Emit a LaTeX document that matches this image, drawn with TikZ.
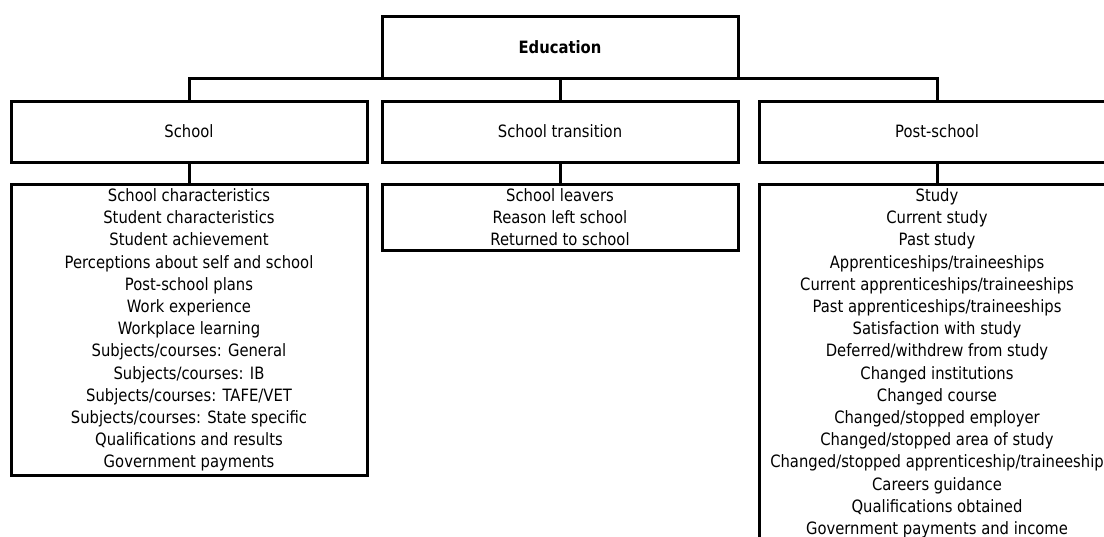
\documentclass[tikz,border=0pt]{standalone}
\usepackage{fontspec}
\setmainfont{DejaVu Sans}[FakeStretch=0.87]
\usetikzlibrary{positioning}

\begin{document}
\begin{tikzpicture}[x=1pt,y=-1pt,font=\fontsize{17}{22.2}\selectfont,
    hdbox/.style={draw, line width=3pt, minimum width=356pt, minimum height=61pt, inner sep=0pt, outer sep=0pt},
    lstbox/.style={draw, line width=3pt, minimum width=356pt, align=center, inner xsep=0pt, inner ysep=4.5pt, outer sep=0pt},
    conn/.style={line width=3pt}]
        \clip (0,0) rectangle (1104,536);
        \node[hdbox, minimum height=62pt] (edu) at (560,47) {\textbf{Education}};
        \node[hdbox] (school) at (189,131.5) {School};
        \node[hdbox] (trans) at (560,131.5) {School transition};
        \node[hdbox] (post) at (937,131.5) {Post-school};
        \node[lstbox, below=22pt of school] (schlist) {School characteristics\\ Student characteristics\\ Student achievement\\
            Perceptions about self and school\\ Post-school plans\\ Work experience\\ Workplace learning\\
            Subjects/courses: General\\ Subjects/courses: IB\\ Subjects/courses: TAFE/VET\\
            Subjects/courses: State specific\\ Qualifications and results\\ Government payments};
        \node[lstbox, below=22pt of trans] (translist) {School leavers\\ Reason left school\\ Returned to school};
        \node[lstbox, below=22pt of post] (postlist) {Study\\ Current study\\ Past study\\ Apprenticeships/traineeships\\
            Current apprenticeships/traineeships\\ Past apprenticeships/traineeships\\ Satisfaction with study\\
            Deferred/withdrew from study\\ Changed institutions\\ Changed course\\ Changed/stopped employer\\
            Changed/stopped area of study\\ Changed/stopped apprenticeship/traineeship\\ Careers guidance\\
            Qualifications obtained\\ Government payments and income};
        \draw[conn] (school.north) |- (edu.south) -| (post.north);
        \draw[conn] (edu.south) -- (trans.north);
        \draw[conn] (school.south) -- (schlist.north);
        \draw[conn] (trans.south) -- (translist.north);
        \draw[conn] (post.south) -- (postlist.north);
\end{tikzpicture}
\end{document}
